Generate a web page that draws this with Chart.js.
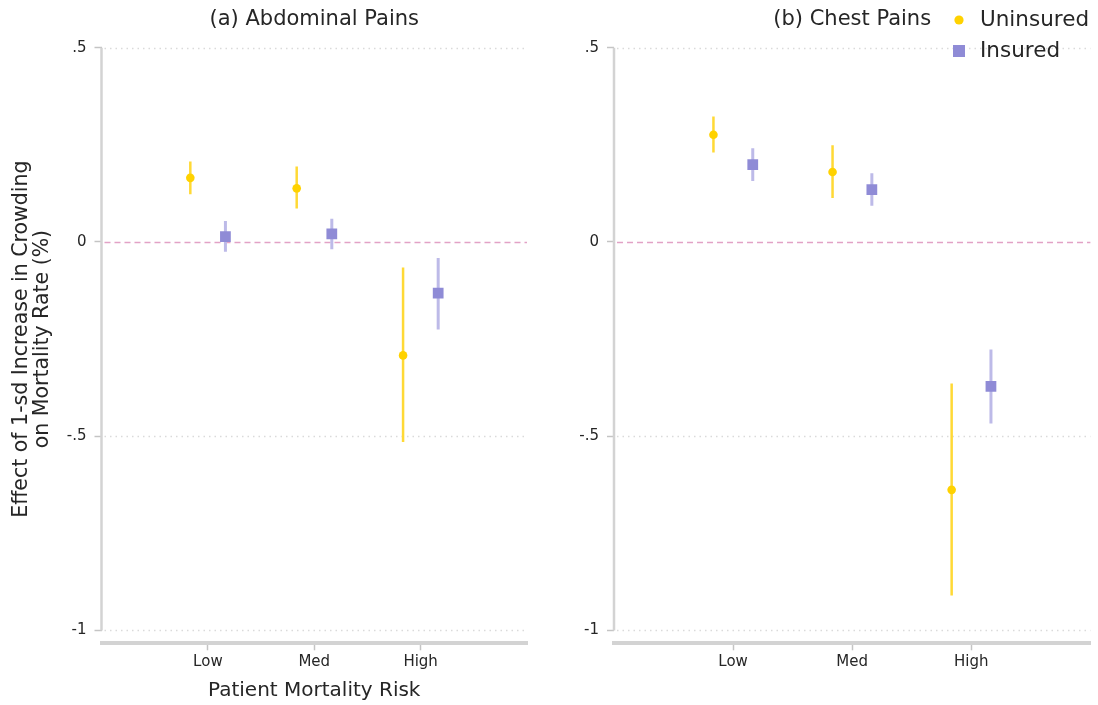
<!DOCTYPE html>
<html>
<head>
<meta charset="utf-8">
<script src="https://cdn.jsdelivr.net/npm/chart.js@4.4.0/dist/chart.umd.min.js"></script>
<style>
  html, body { margin: 0; padding: 0; background: #ffffff; }
  #wrap { position: relative; width: 1098px; height: 705px; overflow: hidden; }
  canvas { position: absolute; top: 0; }
</style>
</head>
<body>
<div id="wrap">
  <canvas id="panelA" width="549" height="705" style="left:0px;width:549px;height:705px"></canvas>
  <canvas id="panelB" width="549" height="705" style="left:549px;width:549px;height:705px"></canvas>
</div>
<script>
// Categories and axis ticks
const categories = ['Low', 'Med', 'High'];
const categoryPositions = [1, 2, 3];
const yTickValues = [0.5, 0, -0.5, -1];
const yTickLabels = ['.5', '0', '-.5', '-1'];
const seriesNames = ['Uninsured', 'Insured'];

// (a) Abdominal pains: point estimates and 95% CI bounds
const abdUninsured     = [0.165, 0.138, -0.292];
const abdUninsuredLow  = [0.123, 0.086, -0.515];
const abdUninsuredHigh = [0.207, 0.194, -0.066];
const abdInsured       = [0.014, 0.021, -0.132];
const abdInsuredLow    = [-0.025, -0.019, -0.225];
const abdInsuredHigh   = [0.054, 0.060, -0.041];

// (b) Chest pains: point estimates and 95% CI bounds
const chestUninsured     = [0.276, 0.180, -0.638];
const chestUninsuredLow  = [0.230, 0.113, -0.910];
const chestUninsuredHigh = [0.323, 0.249, -0.364];
const chestInsured       = [0.199, 0.135, -0.372];
const chestInsuredLow    = [0.157, 0.093, -0.467];
const chestInsuredHigh   = [0.241, 0.177, -0.277];

// Styling
const FONT = "'DejaVu Sans', 'Liberation Sans', sans-serif";
const TEXT = '#262626';
const GOLD = '#ffd200';
const GOLD_CI = '#ffd935';
const PURPLE = '#8f8bd6';
const PURPLE_CI = '#bdbae8';
const AXIS = '#d3d3d3';
const TICK = '#c4c4c4';
const GRID = '#dadada';
const REF = '#e2a2c6';
const SHIFT = 0.165;   // horizontal dodge of the two groups within a category

function panelDatasets(unins, uLo, uHi, ins, iLo, iHi) {
  const sets = [
    {
      label: seriesNames[0],
      data: unins.map((v, i) => ({ x: categoryPositions[i] - SHIFT, y: v })),
      pointStyle: 'circle', pointRadius: 4.3, backgroundColor: GOLD,
      borderWidth: 0, showLine: false, order: 0
    },
    {
      label: seriesNames[1],
      data: ins.map((v, i) => ({ x: categoryPositions[i] + SHIFT, y: v })),
      pointStyle: 'rect', pointRadius: 7.6, backgroundColor: PURPLE,
      borderWidth: 0, showLine: false, order: 0
    }
  ];
  categoryPositions.forEach((c, i) => {
    sets.push({
      label: seriesNames[0] + ' CI',
      data: [{ x: c - SHIFT, y: uLo[i] }, { x: c - SHIFT, y: uHi[i] }],
      showLine: true, borderColor: GOLD_CI, borderWidth: 2.5, borderCapStyle: 'butt',
      pointRadius: 0, order: 1
    });
    sets.push({
      label: seriesNames[1] + ' CI',
      data: [{ x: c + SHIFT, y: iLo[i] }, { x: c + SHIFT, y: iHi[i] }],
      showLine: true, borderColor: PURPLE_CI, borderWidth: 3, borderCapStyle: 'butt',
      pointRadius: 0, order: 1
    });
  });
  return sets;
}

// Gridlines, zero reference line, y-axis line, titles and legend
function framePlugin(cfg) {
  return {
    id: 'frame_' + cfg.id,
    beforeDatasetsDraw(chart) {
      const { ctx, chartArea } = chart;
      const y = chart.scales.y;
      ctx.save();
      yTickValues.forEach(v => {
        const py = Math.round(y.getPixelForValue(v)) + 0.5;
        ctx.beginPath();
        if (v === 0) {
          ctx.strokeStyle = REF; ctx.lineWidth = 1.5; ctx.setLineDash([6, 4]);
        } else {
          ctx.strokeStyle = GRID; ctx.lineWidth = 1.5; ctx.setLineDash([1.5, 4]);
        }
        ctx.moveTo(chartArea.left + 3, py);
        ctx.lineTo(chartArea.right, py);
        ctx.stroke();
      });
      ctx.setLineDash([]);
      ctx.strokeStyle = AXIS; ctx.lineWidth = 2.5;
      ctx.beginPath();
      ctx.moveTo(chartArea.left, y.getPixelForValue(yTickValues[0]));
      ctx.lineTo(chartArea.left, y.getPixelForValue(yTickValues[yTickValues.length - 1]));
      ctx.stroke();
      ctx.restore();
    },
    afterDraw(chart) {
      const { ctx, chartArea } = chart;
      const y = chart.scales.y;
      ctx.save();
      ctx.fillStyle = TEXT;
      ctx.textBaseline = 'middle';
      ctx.font = '21px ' + FONT;
      ctx.textAlign = 'center';
      ctx.fillText(cfg.title, (chartArea.left + chartArea.right) / 2, 20);

      if (cfg.yTitle) {
        const cy = (y.getPixelForValue(yTickValues[0]) + y.getPixelForValue(yTickValues[yTickValues.length - 1])) / 2;
        ctx.font = '20.5px ' + FONT;
        cfg.yTitle.forEach((line, k) => {
          ctx.save();
          ctx.translate(22 + k * 21, cy);
          ctx.rotate(-Math.PI / 2);
          ctx.fillText(line, 0, 0);
          ctx.restore();
        });
      }

      if (cfg.legend) {
        const lx = cfg.legend.x, ly = cfg.legend.y;
        ctx.font = '21.5px ' + FONT;
        ctx.textAlign = 'left';
        ctx.fillStyle = GOLD;
        ctx.beginPath(); ctx.arc(lx, ly, 4.6, 0, Math.PI * 2); ctx.fill();
        ctx.fillStyle = PURPLE;
        ctx.fillRect(lx - 6, ly + 31 - 6, 12, 12);
        ctx.fillStyle = TEXT;
        ctx.fillText(seriesNames[0], lx + 21, ly);
        ctx.fillText(seriesNames[1], lx + 21, ly + 31);
      }
      ctx.restore();
    }
  };
}

function makePanel(cfg) {
  const canvas = document.getElementById(cfg.id);
  return new Chart(canvas, {
    type: 'scatter',
    data: { datasets: panelDatasets(...cfg.series) },
    options: {
      responsive: false,
      animation: false,
      events: [],
      layout: { padding: { top: 47.7, right: cfg.padRight, left: 0, bottom: 0 } },
      plugins: { legend: { display: false }, tooltip: { enabled: false }, title: { display: false } },
      scales: {
        x: {
          type: 'linear', min: 0, max: 4,
          afterBuildTicks: s => { s.ticks = categoryPositions.map(v => ({ value: v })); },
          afterFit: s => { s.height = 705 - 643.3; },
          ticks: {
            callback: v => categories[categoryPositions.indexOf(v)],
            font: { family: FONT, size: 15 }, color: TEXT, padding: 3,
            maxRotation: 0, autoSkip: false
          },
          grid: { drawOnChartArea: false, drawTicks: true, tickLength: 7, tickColor: TICK, tickWidth: 1.5 },
          border: { display: true, color: AXIS, width: 4 },
          title: cfg.xTitle ? {
            display: true, text: cfg.xTitle, color: TEXT,
            font: { family: FONT, size: 20 }, padding: { top: 0, bottom: 2 }
          } : { display: false }
        },
        y: {
          type: 'linear', min: -1.033, max: 0.5,
          afterBuildTicks: s => { s.ticks = yTickValues.map(v => ({ value: v })); },
          afterFit: s => { s.width = cfg.axisLeft; },
          ticks: {
            callback: v => yTickLabels[yTickValues.indexOf(v)],
            font: { family: FONT, size: 15 }, color: TEXT, padding: 8, autoSkip: false
          },
          grid: { drawOnChartArea: false, drawTicks: true, tickLength: 7, tickColor: TICK, tickWidth: 1.5 },
          border: { display: false }
        }
      }
    },
    plugins: [framePlugin(cfg)]
  });
}

makePanel({
  id: 'panelA',
  title: '(a) Abdominal Pains',
  series: [abdUninsured, abdUninsuredLow, abdUninsuredHigh, abdInsured, abdInsuredLow, abdInsuredHigh],
  axisLeft: 101.5,
  padRight: 22,
  xTitle: 'Patient Mortality Risk',
  yTitle: ['Effect of 1-sd Increase in Crowding', 'on Mortality Rate (%)']
});

makePanel({
  id: 'panelB',
  title: '(b) Chest Pains',
  series: [chestUninsured, chestUninsuredLow, chestUninsuredHigh, chestInsured, chestInsuredLow, chestInsuredHigh],
  axisLeft: 65,
  padRight: 3,
  legend: { x: 410, y: 20 }
});
</script>
</body>
</html>
